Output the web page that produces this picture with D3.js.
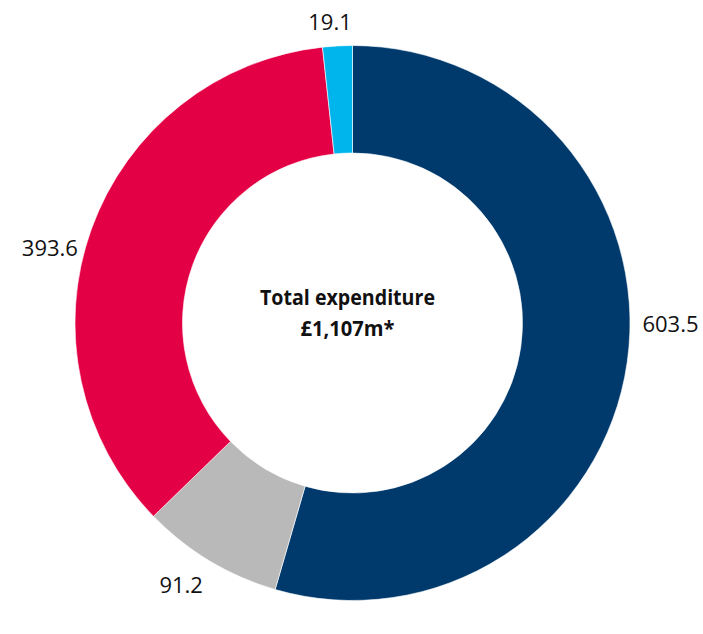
<!DOCTYPE html>
<html>
<head>
<meta charset="utf-8">
<script src="https://cdn.jsdelivr.net/npm/d3@7"></script>
<style>
  html, body { margin: 0; padding: 0; background: #ffffff; }
  svg { display: block; }
  text { font-family: "Open Sans", "Noto Sans", sans-serif; fill: #111; }
</style>
</head>
<body>
<svg id="chart" width="703" height="634"></svg>
<script>
// Expenditure breakdown (£m), clockwise from 12 o'clock
const categories = ["A", "B", "C", "D"];
const values = [603.5, 91.2, 393.6, 19.1];
const labels = ["603.5", "91.2", "393.6", "19.1"];
const colours = ["#003a6d", "#b9b9b9", "#e40045", "#00b5eb"];
const centreTitle = "Total expenditure";
const centreValue = "£1,107m*";

const width = 703, height = 634;
const cx = 352.5, cy = 323;
const outerR = 277.5, innerR = 170;

const data = categories.map((c, i) => ({ category: c, value: values[i], label: labels[i], colour: colours[i] }));

const svg = d3.select("#chart");
const g = svg.append("g").attr("transform", `translate(${cx},${cy})`);

const pie = d3.pie().value(d => d.value).sort(null);
const arc = d3.arc().innerRadius(innerR).outerRadius(outerR);
const arcs = pie(data);

g.selectAll("path.slice")
  .data(arcs)
  .join("path")
  .attr("class", "slice")
  .attr("d", arc)
  .attr("fill", d => d.data.colour)
  .attr("stroke", "#ffffff")
  .attr("stroke-width", 0.6);

// value labels sit outside the ring; a few are nudged round for legibility
const labelR = 312;
const angleNudge = { A: -0.14, B: 0.04, C: -0.1, D: -0.02 };
const radiusNudge = { A: 6, B: 0, C: 0, D: -9 };
g.selectAll("text.value")
  .data(arcs)
  .join("text")
  .attr("class", "value")
  .attr("transform", d => {
    const a = (d.startAngle + d.endAngle) / 2 + (angleNudge[d.data.category] || 0);
    const r = labelR + (radiusNudge[d.data.category] || 0);
    return `translate(${Math.sin(a) * r},${-Math.cos(a) * r})`;
  })
  .attr("text-anchor", "middle")
  .attr("dominant-baseline", "central")
  .style("font-size", "22px")
  .text(d => d.data.label);

g.append("text")
  .attr("x", -5).attr("y", -18)
  .attr("text-anchor", "middle")
  .attr("textLength", 175)
  .attr("lengthAdjust", "spacingAndGlyphs")
  .style("font-size", "22px")
  .style("font-weight", "700")
  .text(centreTitle);

g.append("text")
  .attr("x", -5).attr("y", 13)
  .attr("text-anchor", "middle")
  .attr("textLength", 94)
  .attr("lengthAdjust", "spacingAndGlyphs")
  .style("font-size", "22px")
  .style("font-weight", "700")
  .text(centreValue);
</script>
</body>
</html>
